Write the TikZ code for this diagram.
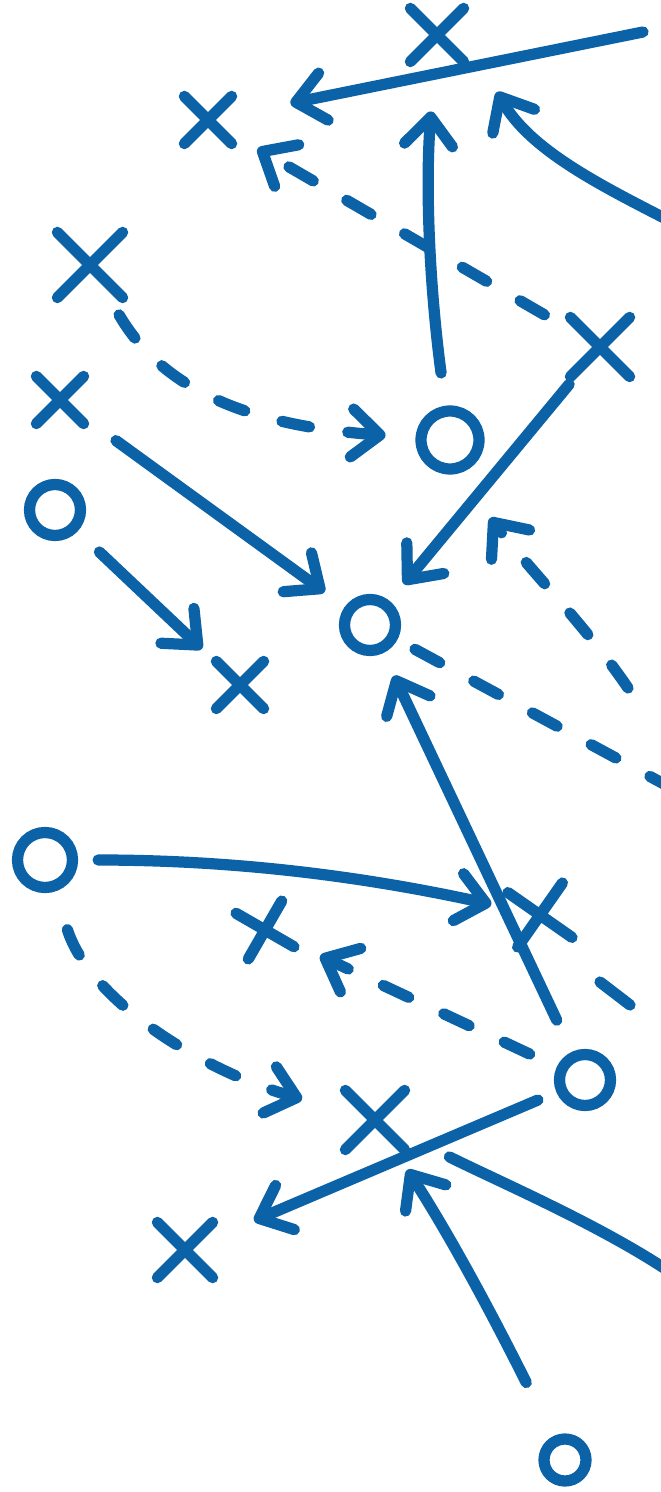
\documentclass[tikz,border=0pt]{standalone}
\usetikzlibrary{arrows.meta,shapes.misc}
\definecolor{ink}{RGB}{12,98,166}
\begin{document}
\begin{tikzpicture}[x=0.1mm,y=-0.1mm,
    defense/.style={cross out,draw=ink,line width=3.2pt,line cap=round,minimum size=4.5mm,inner sep=0pt},
    offense/.style={circle,draw=ink,line width=3.2pt,minimum size=5.1mm,inner sep=0pt},
    runline/.style={draw=ink,line width=3.2pt,line cap=round,line join=round},
    passline/.style={runline,dash pattern=on 8pt off 11pt},
    >={Straight Barb[length=2.8mm,width=4.8mm,round]}
]
\path[use as bounding box,fill=white] (0,0) rectangle (661,1492);
\clip (0,0) rectangle (661,1492);

\node[defense,minimum size=4.2mm] (xa) at (437,35)   {};
\node[defense,minimum size=3.6mm] (xb) at (208,120)  {};
\node[defense,minimum size=5.4mm] (xc) at (90,265)   {};
\node[defense,minimum size=4.8mm] (xd) at (600,347)  {};
\node[defense,minimum size=3.6mm] (xe) at (60,400)   {};
\node[defense,minimum size=3.6mm] (xf) at (240,685)  {};
\node[defense,minimum size=4.4mm,rotate=10] (xg) at (540,915) {};
\node[defense,minimum size=3.6mm,rotate=15] (xh) at (265,930) {};
\node[defense,minimum size=4.8mm] (xi) at (375,1120) {};
\node[defense,minimum size=4.4mm] (xj) at (185,1250) {};

\node[offense,minimum size=5.8mm] (oa) at (450,440)  {};
\node[offense]                    (ob) at (55,510)   {};
\node[offense]                    (oc) at (370,625)  {};
\node[offense,minimum size=5.5mm] (od) at (45,860)   {};
\node[offense]                    (oe) at (585,1080) {};
\node[offense,minimum size=4.2mm] (of) at (565,1460) {};

\coordinate (r1)  at (643,32);
\coordinate (r3a) at (668,220);
\coordinate (r3b) at (497,92);
\coordinate (r9a) at (628,688);
\coordinate (r9b) at (490,518);
\coordinate (r10) at (675,790);
\coordinate (r14a) at (600,982);
\coordinate (r14b) at (630,1005);
\coordinate (r17) at (670,1272);

\draw[runline,->,shorten >=6mm] (r1) -- (xb);
\draw[runline,->,shorten <=3.3mm,shorten >=5mm] (oa) .. controls (430,290) and (425,190) .. (xa);
\draw[runline,->] (r3a) .. controls (600,185) and (530,150) .. (r3b);
\draw[passline,->,shorten <=3mm,shorten >=3mm] (xd) -- (xb);
\draw[passline,->,shorten <=2mm,shorten >=3mm] (xc) .. controls (160,385) and (240,425) .. (oa);
\draw[runline,->,shorten <=1mm,shorten >=2.2mm] (xd) -- (oc);
\draw[runline,->,shorten <=4mm,shorten >=2.5mm] (xe) -- (oc);
\draw[runline,->,shorten <=3mm,shorten >=2mm] (ob) -- (xf);
\draw[passline,->] (r9a) .. controls (585,625) and (530,570) .. (r9b);
\draw[passline,shorten <=2mm] (oc) -- (r10);
\draw[runline,->,shorten <=3.5mm,shorten >=2.5mm] (oe) -- (oc);
\draw[runline,->,shorten <=2mm,shorten >=2mm] (od) .. controls (250,860) and (380,880) .. (xg);
\draw[passline,->,shorten <=3mm,shorten >=3mm] (oe) -- (xh);
\draw[runline] (r14a) -- (r14b);
\draw[passline,->,shorten <=4mm,shorten >=4.5mm] (od) .. controls (90,1000) and (200,1070) .. (xi);
\draw[runline,->,shorten <=2mm,shorten >=4.5mm] (oe) -- (xj);
\draw[runline,shorten <=5mm] (xi) .. controls (500,1182) and (600,1225) .. (r17);
\draw[runline,->,shorten <=6mm,shorten >=2.4mm] (of) .. controls (480,1290) and (440,1220) .. (xi);
\end{tikzpicture}
\end{document}
